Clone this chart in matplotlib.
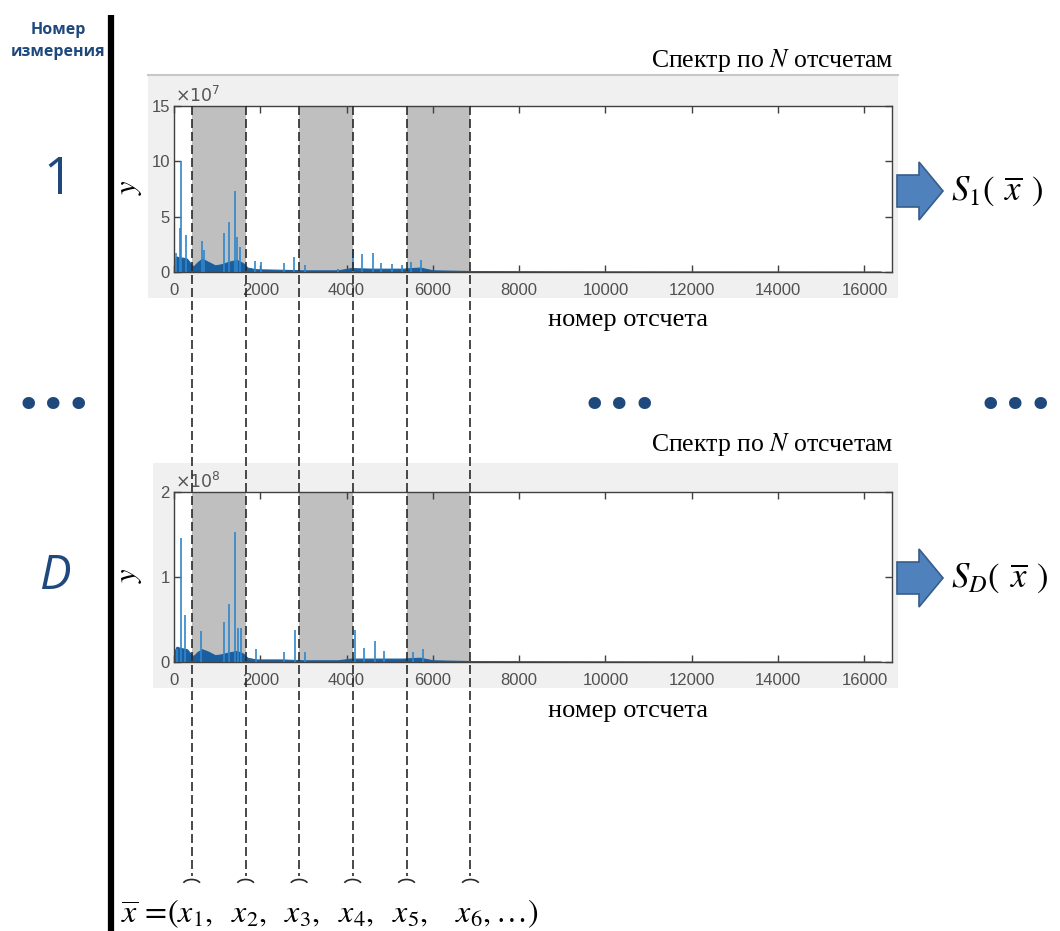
import matplotlib.pyplot as plt
from matplotlib.patches import Rectangle, FancyArrow, Arc

plt.rcParams['font.family'] = ['Liberation Sans', 'DejaVu Sans']
plt.rcParams['mathtext.fontset'] = 'stix'

W, H = 1060, 931

# границы отрезков x1..x6 (номер отсчета)
bounds = [410, 1660, 2900, 4140, 5390, 6870]
bands = [(410, 1660), (2900, 4140), (5390, 6870)]
xticks = [0, 2000, 4000, 6000, 8000, 10000, 12000, 14000, 16000]

# спектр 1 (x 1e7): пики
peaks1_x = [50, 140, 155, 270, 640, 700, 1166, 1274, 1406, 1467, 1529, 1877, 2006, 2556,
            2781, 3029, 3800, 4155, 4350, 4605, 4798, 5046, 5278, 5486, 5724]
peaks1_y = [1.7, 4.0, 10.0, 3.3, 2.8, 2.0, 3.5, 4.5, 7.3, 3.2, 2.3, 1.0, 0.9, 0.8,
            1.4, 0.6, 0.3, 2.1, 1.6, 1.7, 0.8, 0.7, 0.6, 0.9, 1.1]
# спектр 1: огибающая шума
env1_x = [0, 60, 120, 200, 300, 400, 450, 550, 650, 800, 950, 1100, 1250, 1450, 1600,
          1700, 1900, 2500, 3000, 3800, 4100, 4600, 5300, 5700, 6000, 7000, 9000, 12000, 16380]
env1_y = [1.0, 1.4, 1.3, 1.3, 1.2, 0.7, 0.5, 0.9, 1.2, 0.9, 0.6, 0.7, 0.9, 1.1, 0.8,
          0.4, 0.25, 0.2, 0.15, 0.15, 0.35, 0.3, 0.3, 0.4, 0.15, 0.08, 0.06, 0.05, 0.04]

# спектр D (x 1e8)
peaks2_x = [60, 162, 255, 620, 1165, 1274, 1406, 1475, 1545, 1900, 2560, 2800, 3030,
            4190, 4400, 4650, 4860, 5540, 5780]
peaks2_y = [0.15, 1.46, 0.55, 0.37, 0.47, 0.68, 1.53, 0.40, 0.40, 0.15, 0.12, 0.38, 0.12,
            0.38, 0.17, 0.25, 0.13, 0.12, 0.15]
env2_x = env1_x
env2_y = [0.12, 0.18, 0.17, 0.16, 0.15, 0.09, 0.07, 0.12, 0.15, 0.12, 0.08, 0.09, 0.11, 0.13, 0.1,
          0.05, 0.03, 0.03, 0.02, 0.02, 0.04, 0.04, 0.04, 0.05, 0.02, 0.01, 0.008, 0.006, 0.005]


def rect(l, t, r, b):
    return [l / W, 1 - b / H, (r - l) / W, (b - t) / H]


fig = plt.figure(figsize=(W / 100, H / 100), dpi=100)

bg = fig.add_axes([0, 0, 1, 1], zorder=0)
bg.set_xlim(0, W)
bg.set_ylim(H, 0)
bg.axis('off')

# серые подложки
bg.add_patch(Rectangle((148, 75), 750, 223, fc='#f0f0f0', ec='none'))
bg.plot([148, 898], [75, 75], color='#c8c8c8', lw=1.5)
bg.add_patch(Rectangle((153, 463), 745, 225, fc='#f0f0f0', ec='none'))

serif = 'Liberation Serif'
blue_txt = '#1f497d'


def spectrum(pos, px, py, ex, ey, ylim, yticks, expo):
    ax = fig.add_axes(rect(*pos), zorder=1)
    for a, b in bands:
        ax.axvspan(a, b, color='#bfbfbf', lw=0, zorder=0)
    ax.fill_between(ex, 0, ey, color='#1a5e9e', lw=0.8, zorder=2)
    ax.vlines(px, 0, py, color='#2f86cc', lw=1.4, alpha=0.85, zorder=3)
    ax.set_xlim(0, 16640)
    ax.set_ylim(*ylim)
    ax.set_xticks(xticks)
    ax.set_yticks(yticks)
    ax.tick_params(direction='in', top=True, right=True, length=5, width=1,
                   color='#404040', labelcolor='#505050', labelsize=12)
    ax.tick_params(axis='x', pad=8)
    ax.tick_params(axis='y', pad=3)
    for s in ax.spines.values():
        s.set_color('#404040')
        s.set_linewidth(1)
    ax.text(0.002, 1.005, r'$\times10^{%d}$' % expo, transform=ax.transAxes,
            fontsize=12.5, color='#555555', math_fontfamily='dejavusans', va='bottom')
    return ax


ax1 = spectrum((174, 106, 892, 272), peaks1_x, peaks1_y, env1_x, env1_y, (0, 15), [0, 5, 10, 15], 7)
ax2 = spectrum((174, 492, 892, 662), peaks2_x, peaks2_y, env2_x, env2_y, (0, 2), [0, 1, 2], 8)

ov = fig.add_axes([0, 0, 1, 1], zorder=2)
ov.set_xlim(0, W)
ov.set_ylim(H, 0)
ov.axis('off')

# заголовки и подписи
for yt, yl, yy in [(61, 320, 187), (445, 711, 575)]:
    ov.text(893, yt, 'Спектр по $N$ отсчетам', ha='right', va='center',
            fontsize=18.5, fontfamily=serif)
    ov.text(628, yl, 'номер отсчета', ha='center', va='center', fontsize=19, fontfamily=serif)
    ov.text(129, yy, '$y$', ha='center', va='center', rotation=90, fontsize=22)

# вертикальная ось измерений
ov.plot([111, 111], [15, H], color='black', lw=4.5, solid_capstyle='butt')
ov.text(58, 30, 'Номер', ha='center', va='center', fontsize=11.5, fontweight='bold',
        color=blue_txt, fontfamily='Open Sans')
ov.text(58, 52, 'измерения', ha='center', va='center', fontsize=11.5, fontweight='bold',
        color=blue_txt, fontfamily='Open Sans')
ov.text(58, 180, '1', ha='center', va='center', fontsize=37, color=blue_txt, fontfamily='Open Sans')
ov.text(55, 576, 'D', ha='center', va='center', fontsize=34, color=blue_txt,
        fontfamily='Open Sans', fontstyle='italic')
for xd in [54, 620, 1016]:
    ov.text(xd, 407, '•••', ha='center', va='center', fontsize=31, color=blue_txt,
            fontfamily='DejaVu Sans')

# стрелки к S(x)
for ya, lab in [(191, r'$S_1(\;\,\overline{x}\;\,)$'), (578, r'$S_D(\;\,\overline{x}\;\,)$')]:
    ov.add_patch(FancyArrow(897, ya, 46, 0, width=32, head_width=58, head_length=24,
                            length_includes_head=True, fc='#4f81bd', ec='#385d8a', lw=1.2))
    ov.text(951, ya, lab, ha='left', va='center', fontsize=25)

# пунктирные границы и дуги
xs = ax1.transData.transform([(b, 0) for b in bounds])[:, 0]
for i, xp in enumerate(xs):
    ov.plot([xp, xp], [106, 876], color='#2a2a2a', lw=1.2, dashes=(5.4, 2.4))
    ov.add_patch(Arc((xp, 885), 18, 11, theta1=195, theta2=345, color='#2a2a2a', lw=1.2))
    lab = r'$x_{%d},$' % (i + 1) if i < 5 else r'$x_6,\ldots)$'
    ov.text(xp - 15, 922, lab, ha='left', va='baseline', fontsize=23)
ov.text(179, 922, r'$\overline{x}\,=\!($', ha='right', va='baseline', fontsize=23)

fig.savefig('out.png', dpi=100, facecolor='white')
plt.close()
